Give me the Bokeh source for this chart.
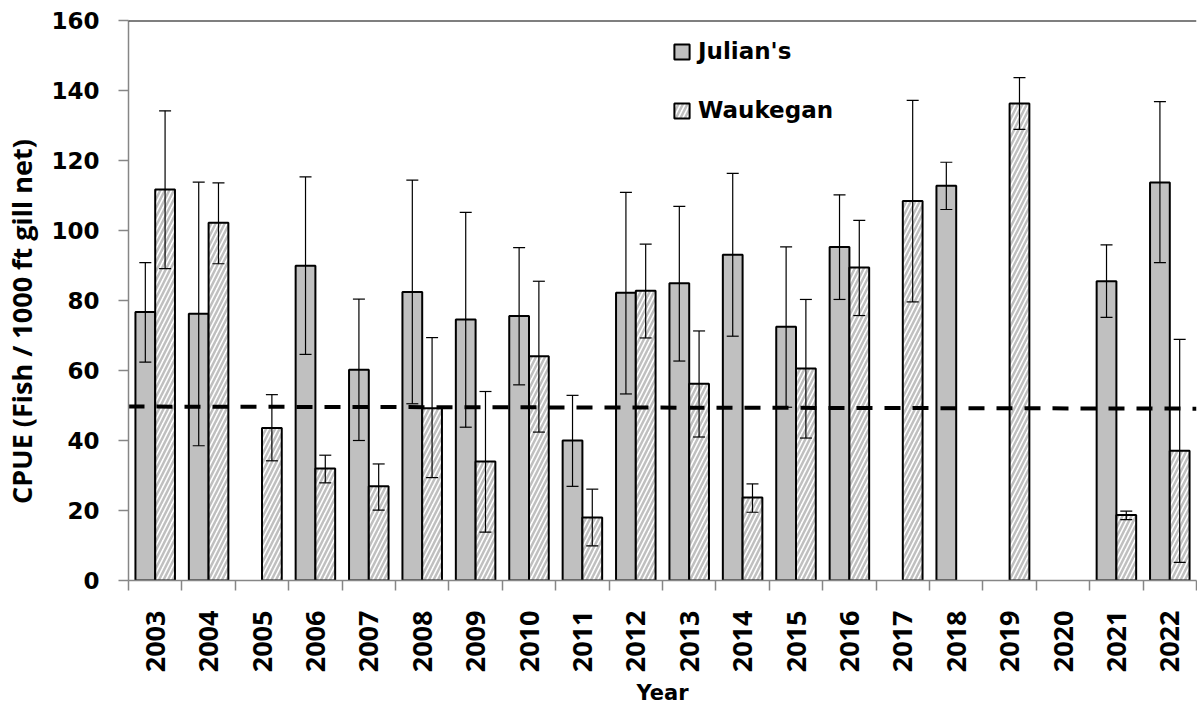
import math
from bokeh.plotting import figure
from bokeh.models import (Range1d, FixedTicker, LinearAxis, Whisker, TeeHead,
                          ColumnDataSource, Legend, LegendItem, Span)
from bokeh.embed import file_html
from bokeh.resources import INLINE

nan = float("nan")

years = [str(y) for y in range(2003, 2023)]
julians = [76.7, 76.2, nan, 89.9, 60.2, 82.4, 74.6, 75.6, 40.0, 82.2,
           84.9, 93.1, 72.5, 95.3, nan, 112.8, nan, nan, 85.5, 113.7]
julians_upper = [90.8, 113.8, nan, 115.3, 80.4, 114.4, 105.2, 95.1, 52.9, 110.9,
                 106.9, 116.3, 95.3, 110.2, nan, 119.5, nan, nan, 95.9, 136.8]
julians_lower = [62.4, 38.5, nan, 64.6, 40.0, 50.5, 43.8, 55.9, 26.9, 53.3,
                 62.7, 69.8, 49.5, 80.3, nan, 106.0, nan, nan, 75.2, 90.8]
waukegan = [111.7, 102.2, 43.6, 32.0, 26.9, 49.2, 34.0, 64.1, 18.0, 82.8,
            56.2, 23.7, 60.6, 89.4, 108.4, nan, 136.3, nan, 18.7, 37.1]
waukegan_upper = [134.2, 113.6, 53.1, 35.8, 33.3, 69.4, 54.0, 85.5, 26.1, 96.1,
                  71.3, 27.6, 80.3, 102.9, 137.2, nan, 143.7, nan, 19.8, 68.9]
waukegan_lower = [89.1, 90.5, 34.2, 27.9, 20.1, 29.4, 13.8, 42.4, 9.9, 69.3,
                  41.0, 19.5, 40.7, 75.7, 79.6, nan, 128.9, nan, 17.4, 5.2]
reference_line = [49.7, 49.1]
y_ticks = [0, 20, 40, 60, 80, 100, 120, 140, 160]

n = len(years)
bar_w = 0.37
off = bar_w / 2


def make_source(vals, up, lo, shift):
    xs, v, u, l = [], [], [], []
    for i in range(n):
        if not math.isnan(vals[i]):
            xs.append(i + 0.5 + shift)
            v.append(vals[i]); u.append(up[i]); l.append(lo[i])
    return ColumnDataSource(dict(x=xs, top=v, upper=u, lower=l))


src_j = make_source(julians, julians_upper, julians_lower, -off)
src_w = make_source(waukegan, waukegan_upper, waukegan_lower, off)

p = figure(frame_width=1068, frame_height=560, x_range=Range1d(0, n), y_range=Range1d(0, 160),
           output_backend="svg", toolbar_location=None,
           x_axis_type=None, y_axis_type=None,
           min_border_left=121, min_border_right=1, min_border_top=20,
           min_border_bottom=4)
p.outline_line_color = None
p.xgrid.visible = False
p.ygrid.visible = False

rj = p.vbar(x="x", top="top", width=bar_w, source=src_j, fill_color="#C0C0C0",
            line_color="black", line_width=2)
rw = p.vbar(x="x", top="top", width=bar_w, source=src_w, fill_color="white",
            hatch_pattern="/", hatch_color="#C0C0C0", hatch_scale=9, hatch_weight=2.5,
            line_color="black", line_width=2)

p.line([0, n], reference_line, line_color="black", line_width=4, line_dash="16 12")

for s in (src_j, src_w):
    wk = Whisker(base="x", upper="upper", lower="lower", source=s,
                 line_color="black", line_width=1.2, level="overlay",
                 upper_head=TeeHead(size=12, line_color="black", line_width=1.2),
                 lower_head=TeeHead(size=12, line_color="black", line_width=1.2))
    p.add_layout(wk)

p.add_layout(Span(location=160, dimension="width", line_color="black", line_width=2))

# y axis
yax = LinearAxis(ticker=FixedTicker(ticks=y_ticks, minor_ticks=[]),
                 axis_label="CPUE (Fish / 1000 ft gill net)" + "\u00a0" * 6)
yax.axis_line_color = "#868686"
yax.axis_line_width = 1.5
yax.major_tick_line_color = "#868686"
yax.major_tick_line_width = 1.5
yax.major_tick_out = 10
yax.major_tick_in = 0
yax.minor_tick_line_color = None
yax.major_label_text_font = "DejaVu Sans"
yax.major_label_text_font_style = "bold"
yax.major_label_text_font_size = "23px"
yax.major_label_text_color = "black"
yax.major_label_standoff = 19
yax.axis_label_text_font = "Open Sans"
yax.axis_label_text_font_style = "bold"
yax.axis_label_text_font_size = "27px"
yax.axis_label_text_color = "black"
yax.axis_label_standoff = 8
p.add_layout(yax, "left")

# x axis
centers = [i + 0.5 for i in range(n)]
bounds = [float(i) for i in range(n + 1)]
xax = LinearAxis(ticker=FixedTicker(ticks=centers, minor_ticks=bounds), axis_label="Year")
xax.major_label_overrides = {c: y for c, y in zip(centers, years)}
xax.axis_line_color = "#868686"
xax.axis_line_width = 1.5
xax.major_tick_line_color = None
xax.major_tick_out = 0
xax.major_tick_in = 0
xax.minor_tick_line_color = "#868686"
xax.minor_tick_line_width = 1.5
xax.minor_tick_out = 10
xax.minor_tick_in = 0
xax.major_label_orientation = math.pi / 2
xax.major_label_standoff = 20
xax.major_label_text_font = "Open Sans"
xax.major_label_text_font_style = "bold"
xax.major_label_text_font_size = "27px"
xax.major_label_text_color = "black"
xax.axis_label_text_font = "DejaVu Sans"
xax.axis_label_text_font_style = "bold"
xax.axis_label_text_font_size = "21px"
xax.axis_label_text_color = "black"
xax.axis_label_standoff = 6
p.add_layout(xax, "below")

legend = Legend(items=[LegendItem(label="Julian's", renderers=[rj]),
                       LegendItem(label="Waukegan", renderers=[rw])],
                location=(534, 447), label_text_font="DejaVu Sans",
                label_text_font_style="bold", label_text_font_size="23px",
                label_text_color="black",
                glyph_width=19, glyph_height=19, spacing=33, padding=10,
                label_standoff=7, background_fill_alpha=0, border_line_alpha=0)
p.add_layout(legend)

open("out.html", "w").write(file_html(p, INLINE))
